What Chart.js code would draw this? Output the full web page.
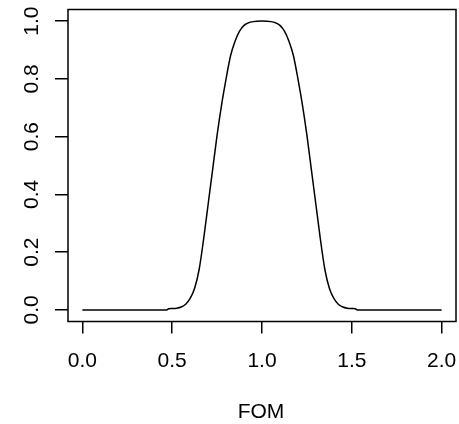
<!DOCTYPE html>
<html>
<head>
<meta charset="utf-8">
<script src="https://cdn.jsdelivr.net/npm/chart.js@4/dist/chart.umd.min.js"></script>
<style>
  html,body{margin:0;padding:0;background:#fff;}
  #wrap{width:459px;height:424px;position:relative;}
</style>
</head>
<body>
<div id="wrap"><canvas id="c" width="459" height="424"></canvas></div>
<script>
// ---------- Daten ----------
const fomValues = [0, 0.47, 0.48, 0.50, 0.525, 0.55, 0.575, 0.60, 0.625, 0.65, 0.675, 0.70, 0.725, 0.75, 0.775, 0.80, 0.825, 0.85, 0.875, 0.90, 0.925, 0.95, 1.00,
  1.05, 1.075, 1.10, 1.125, 1.15, 1.175, 1.20, 1.225, 1.25, 1.275, 1.30, 1.325, 1.35, 1.375, 1.40, 1.425, 1.45, 1.475, 1.50, 1.52, 1.53, 2.0];
const curveValues = [0, 0, 0.004, 0.005, 0.006, 0.01, 0.02, 0.04, 0.075, 0.14, 0.245, 0.365, 0.485, 0.605, 0.71, 0.80, 0.88, 0.93, 0.965, 0.985, 0.994, 0.998, 1.0,
  0.998, 0.994, 0.985, 0.965, 0.93, 0.88, 0.80, 0.71, 0.605, 0.485, 0.365, 0.245, 0.14, 0.075, 0.04, 0.02, 0.01, 0.006, 0.005, 0.004, 0, 0];
const xTicks = [0, 0.5, 1.0, 1.5, 2.0];
const yTicks = [0, 0.2, 0.4, 0.6, 0.8, 1.0];
const xTitle = 'FOM';

const FONT = '21px "Liberation Sans", Arial, sans-serif';

// Rahmen + Beschriftungen wie bei R
const rPlot = {
  id: 'rPlot',
  afterDraw(chart){
    const {ctx, chartArea:a, scales:{x, y}} = chart;
    ctx.save();
    ctx.strokeStyle = '#000'; ctx.lineWidth = 1.5;
    ctx.strokeRect(a.left, a.top, a.right - a.left, a.bottom - a.top);
    ctx.fillStyle = '#000'; ctx.font = FONT;
    ctx.textAlign = 'center'; ctx.textBaseline = 'alphabetic';
    xTicks.forEach(v => ctx.fillText(v.toFixed(1), x.getPixelForValue(v), 366.7));
    ctx.fillText(xTitle, (a.left + a.right) / 2 - 1, 418.3);
    yTicks.forEach(v => {
      ctx.save();
      ctx.translate(38, y.getPixelForValue(v));
      ctx.rotate(-Math.PI / 2);
      ctx.fillText(v.toFixed(1), 0, 0);
      ctx.restore();
    });
    ctx.restore();
  }
};

new Chart(document.getElementById('c'), {
  type: 'scatter',
  data: {
    datasets: [{
      data: fomValues.map((v, i) => ({x: v, y: curveValues[i]})),
      showLine: true, borderColor: '#000', borderWidth: 1.5,
      pointRadius: 0, cubicInterpolationMode: 'monotone', fill: false
    }]
  },
  options: {
    responsive: false, animation: false, devicePixelRatio: 1,
    layout: {padding: {left: 55, right: 3, top: 9.5, bottom: 90.5}},
    plugins: {legend: {display: false}, tooltip: {enabled: false}},
    scales: {
      x: {
        type: 'linear', min: -0.08, max: 2.08,
        afterBuildTicks: s => { s.ticks = xTicks.map(v => ({value: v})); },
        grid: {drawOnChartArea: false, drawTicks: true, tickLength: 12, color: '#000', lineWidth: 1.5},
        border: {display: false},
        ticks: {display: false}
      },
      y: {
        type: 'linear', min: -0.04, max: 1.04,
        afterBuildTicks: s => { s.ticks = yTicks.map(v => ({value: v})); },
        grid: {drawOnChartArea: false, drawTicks: true, tickLength: 13, color: '#000', lineWidth: 1.5},
        border: {display: false},
        ticks: {display: false}
      }
    }
  },
  plugins: [rPlot]
});
</script>
</body>
</html>
